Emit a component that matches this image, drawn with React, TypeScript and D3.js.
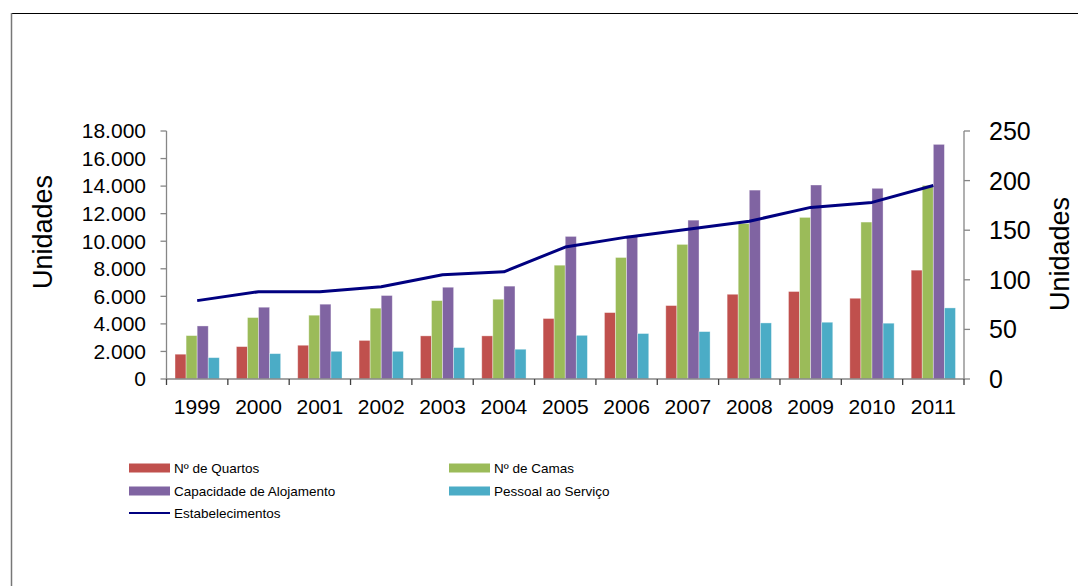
import React from "react";
import * as d3 from "d3";

const years = ["1999","2000","2001","2002","2003","2004","2005","2006","2007","2008","2009","2010","2011"];
const quartos = [1800, 2350, 2450, 2800, 3130, 3130, 4390, 4820, 5330, 6150, 6350, 5860, 7900];
const camas = [3150, 4460, 4630, 5140, 5690, 5790, 8260, 8820, 9770, 11290, 11730, 11390, 14050];
const capacidade = [3850, 5210, 5430, 6060, 6660, 6740, 10350, 10400, 11530, 13710, 14080, 13840, 17030];
const pessoal = [1550, 1840, 2010, 2010, 2280, 2160, 3170, 3300, 3440, 4070, 4120, 4050, 5160];
const estabelecimentos = [79, 88, 88, 93, 105, 108, 133, 143, 151, 159, 173, 178, 195];

const leftTicks = [0, 2000, 4000, 6000, 8000, 10000, 12000, 14000, 16000, 18000];
const rightTicks = [0, 50, 100, 150, 200, 250];

const barSeries = [
  { name: "Nº de Quartos", values: quartos, color: "#C0504D" },
  { name: "Nº de Camas", values: camas, color: "#9BBB59" },
  { name: "Capacidade de Alojamento", values: capacidade, color: "#8064A2" },
  { name: "Pessoal ao Serviço", values: pessoal, color: "#4BACC6" },
];
const lineName = "Estabelecimentos";
const lineColor = "#000080";

const W = 1078, H = 586;
const L = 166.5, R = 964, T = 131, B = 379;
const FONT = "'Liberation Sans', Arial, sans-serif";

const fmt = (v: number) => d3.format(",")(v).replace(/,/g, ".");

export default function App() {
  const x0 = d3.scaleBand<string>().domain(years).range([L, R]).padding(0);
  const x1 = d3.scaleBand<string>().domain(barSeries.map(s => s.name)).range([0, x0.bandwidth()]).paddingInner(0).paddingOuter(0.77);
  const yL = d3.scaleLinear().domain([0, 18000]).range([B, T]);
  const yR = d3.scaleLinear().domain([0, 250]).range([B, T]);
  const line = d3.line<number>()
    .x((_, i) => (x0(years[i]) as number) + x0.bandwidth() / 2)
    .y(d => yR(d));

  const legendItems = [
    { ...barSeries[0], x: 129, y: 468 },
    { ...barSeries[1], x: 449, y: 468 },
    { ...barSeries[2], x: 129, y: 491 },
    { ...barSeries[3], x: 449, y: 491 },
  ];

  return (
    <svg width={W} height={H} style={{ position: "absolute", left: 0, top: 0, background: "#fff" }} fontFamily={FONT}>
      <rect x={0} y={0} width={W} height={H} fill="#fff" />
      {/* frame */}
      <line x1={11} y1={13.5} x2={W} y2={13.5} stroke="#000" strokeWidth={1} />
      <line x1={11.5} y1={13} x2={11.5} y2={H} stroke="#777" strokeWidth={1.5} />

      {/* bars */}
      {barSeries.map(s => (
        <g key={s.name}>
          {s.values.map((v, i) => (
            <rect key={i}
              x={(x0(years[i]) as number) + (x1(s.name) as number)}
              y={yL(v)}
              width={x1.bandwidth()}
              height={B - yL(v)}
              fill={s.color}
              stroke="rgba(255,255,255,0.45)"
              strokeWidth={0.8} />
          ))}
        </g>
      ))}

      {/* left axis */}
      <line x1={L} y1={T} x2={L} y2={B} stroke="#868686" strokeWidth={1.3} />
      {leftTicks.map(t => (
        <g key={t}>
          <line x1={L - 6} x2={L} y1={yL(t)} y2={yL(t)} stroke="#868686" strokeWidth={1.3} />
          <text x={146} y={yL(t)} dy="0.35em" textAnchor="end" fontSize={21} fill="#000">{fmt(t)}</text>
        </g>
      ))}
      {/* right axis */}
      <line x1={R} y1={T} x2={R} y2={B} stroke="#868686" strokeWidth={1.3} />
      {rightTicks.map(t => (
        <g key={t}>
          <line x1={R} x2={R + 6} y1={yR(t)} y2={yR(t)} stroke="#868686" strokeWidth={1.3} />
          <text x={989} y={yR(t)} dy="0.36em" textAnchor="start" fontSize={25} fill="#000">{t}</text>
        </g>
      ))}
      {/* bottom axis */}
      <line x1={L} y1={B} x2={R} y2={B} stroke="#868686" strokeWidth={1.3} />
      {years.concat(["end"]).map((y, i) => {
        const xx = i < years.length ? (x0(y) as number) : R;
        return <line key={"t" + i} x1={xx} x2={xx} y1={B} y2={B + 6} stroke="#404040" strokeWidth={1.3} />;
      })}
      {years.map(y => (
        <text key={y} x={(x0(y) as number) + x0.bandwidth() / 2} y={414} textAnchor="middle" fontSize={21} fill="#000">{y}</text>
      ))}

      {/* line */}
      <path d={line(estabelecimentos) || ""} fill="none" stroke={lineColor} strokeWidth={3} strokeLinejoin="round" />

      {/* axis titles */}
      <text transform={`translate(52,232) rotate(-90)`} textAnchor="middle" fontSize={27} fill="#000">Unidades</text>
      <text transform={`translate(1069,254) rotate(-90)`} textAnchor="middle" fontSize={27} fill="#000">Unidades</text>

      {/* legend */}
      {legendItems.map(it => (
        <g key={it.name}>
          <rect x={it.x} y={it.y - 4.5} width={41} height={9} fill={it.color} />
          <text x={it.x + 45} y={it.y} dy="0.36em" fontSize={13.5} fill="#000">{it.name}</text>
        </g>
      ))}
      <line x1={129} x2={170} y1={513} y2={513} stroke={lineColor} strokeWidth={2} />
      <text x={174} y={513} dy="0.36em" fontSize={13.5} fill="#000">{lineName}</text>
    </svg>
  );
}
